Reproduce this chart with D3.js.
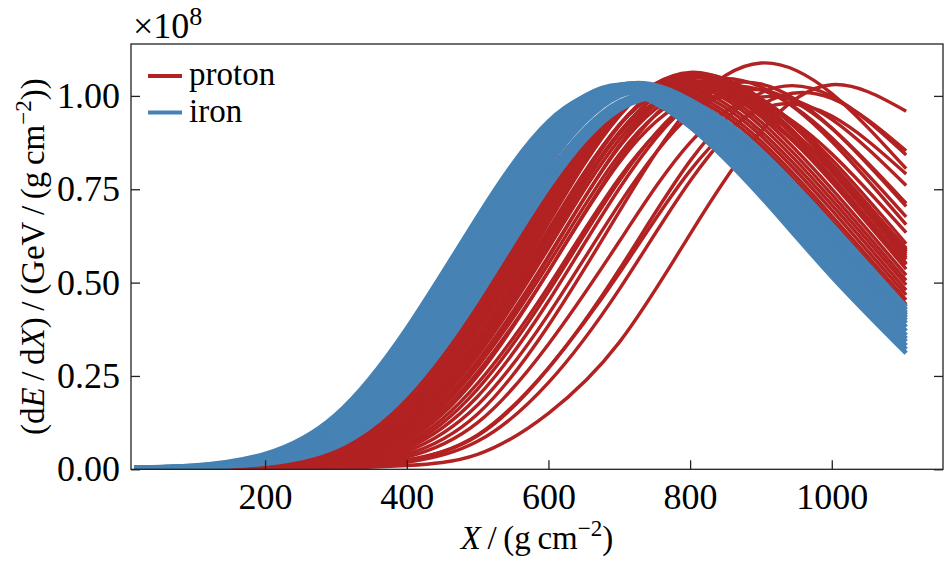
<!DOCTYPE html>
<html>
<head>
<meta charset="utf-8">
<script src="https://cdn.jsdelivr.net/npm/d3@7"></script>
<style>
  body { margin: 0; background: #fff; }
  svg { display: block; font-family: "Liberation Serif", "DejaVu Serif", serif; }
</style>
</head>
<body>
<div id="chart"></div>
<script>
const depthGrid = [15, 100, 200, 300, 400, 500, 600, 700, 800, 900, 1000, 1105];

// Proton-Schauer: dE/dX in Einheiten von 1e8 GeV/(g cm^-2), ein Array pro Schauer
const protonProfiles = [
  [0.002, 0.005, 0.019, 0.073, 0.236, 0.500, 0.796, 0.979, 0.970, 0.826, 0.624, 0.406],
  [0.002, 0.005, 0.016, 0.064, 0.214, 0.475, 0.778, 0.980, 0.990, 0.853, 0.651, 0.429],
  [0.002, 0.004, 0.015, 0.060, 0.205, 0.463, 0.766, 0.977, 0.998, 0.867, 0.666, 0.442],
  [0.002, 0.004, 0.014, 0.057, 0.195, 0.450, 0.756, 0.975, 1.006, 0.879, 0.679, 0.454],
  [0.002, 0.004, 0.013, 0.053, 0.186, 0.438, 0.744, 0.973, 1.014, 0.893, 0.694, 0.467],
  [0.002, 0.004, 0.012, 0.050, 0.175, 0.424, 0.733, 0.970, 1.022, 0.905, 0.708, 0.480],
  [0.002, 0.004, 0.011, 0.047, 0.166, 0.412, 0.721, 0.968, 1.030, 0.919, 0.722, 0.494],
  [0.002, 0.003, 0.011, 0.044, 0.158, 0.399, 0.709, 0.963, 1.036, 0.931, 0.736, 0.506],
  [0.002, 0.003, 0.010, 0.042, 0.150, 0.388, 0.696, 0.958, 1.042, 0.944, 0.751, 0.520],
  [0.002, 0.003, 0.010, 0.039, 0.143, 0.377, 0.687, 0.958, 1.053, 0.960, 0.769, 0.536],
  [0.002, 0.003, 0.009, 0.037, 0.136, 0.365, 0.673, 0.953, 1.059, 0.973, 0.784, 0.550],
  [0.002, 0.003, 0.009, 0.034, 0.128, 0.351, 0.659, 0.946, 1.063, 0.983, 0.797, 0.562],
  [0.002, 0.003, 0.008, 0.033, 0.124, 0.342, 0.642, 0.921, 1.035, 0.957, 0.776, 0.548],
  [0.002, 0.003, 0.008, 0.032, 0.120, 0.334, 0.635, 0.923, 1.048, 0.978, 0.798, 0.567],
  [0.002, 0.002, 0.008, 0.030, 0.113, 0.325, 0.625, 0.920, 1.057, 0.993, 0.815, 0.583],
  [0.002, 0.002, 0.008, 0.031, 0.116, 0.324, 0.617, 0.897, 1.018, 0.950, 0.775, 0.551],
  [0.002, 0.002, 0.007, 0.030, 0.111, 0.319, 0.614, 0.903, 1.037, 0.974, 0.800, 0.572],
  [0.001, 0.002, 0.007, 0.028, 0.106, 0.310, 0.604, 0.900, 1.045, 0.990, 0.818, 0.589],
  [0.001, 0.002, 0.007, 0.027, 0.104, 0.304, 0.592, 0.883, 1.025, 0.971, 0.802, 0.578],
  [0.001, 0.002, 0.007, 0.025, 0.096, 0.290, 0.571, 0.863, 1.014, 0.968, 0.804, 0.582],
  [0.001, 0.002, 0.006, 0.024, 0.092, 0.283, 0.567, 0.868, 1.032, 0.993, 0.830, 0.604],
  [0.001, 0.002, 0.006, 0.023, 0.089, 0.275, 0.550, 0.843, 1.002, 0.965, 0.806, 0.587],
  [0.001, 0.002, 0.006, 0.022, 0.083, 0.260, 0.530, 0.822, 0.988, 0.960, 0.807, 0.592],
  [0.001, 0.002, 0.005, 0.019, 0.076, 0.250, 0.530, 0.830, 1.023, 1.024, 0.878, 0.655],
  [0.001, 0.002, 0.005, 0.017, 0.068, 0.230, 0.490, 0.780, 0.970, 0.980, 0.845, 0.634],
  [0.001, 0.002, 0.004, 0.015, 0.062, 0.215, 0.475, 0.772, 0.985, 1.016, 0.888, 0.676],
  [0.001, 0.002, 0.004, 0.013, 0.056, 0.195, 0.450, 0.752, 0.980, 1.032, 0.914, 0.704],
  [0.001, 0.001, 0.003, 0.012, 0.048, 0.172, 0.415, 0.710, 0.948, 1.016, 0.913, 0.712],
  [0.001, 0.001, 0.003, 0.010, 0.040, 0.148, 0.385, 0.690, 0.970, 1.088, 1.006, 0.805],
  [0.001, 0.001, 0.002, 0.008, 0.033, 0.125, 0.335, 0.610, 0.875, 0.997, 0.937, 0.760],
  [0.000, 0.001, 0.002, 0.006, 0.025, 0.092, 0.272, 0.525, 0.800, 0.965, 0.946, 0.791],
  [0.001, 0.001, 0.002, 0.006, 0.024, 0.090, 0.270, 0.535, 0.826, 1.008, 0.999, 0.842],
  [0.000, 0.001, 0.002, 0.005, 0.019, 0.075, 0.232, 0.482, 0.772, 0.975, 0.993, 0.853],
  [0.000, 0.001, 0.001, 0.003, 0.010, 0.040, 0.150, 0.340, 0.630, 0.905, 1.030, 0.959]
];

// Eisen-Schauer: gleiche Einheiten, schmales Band mit fruehem Maximum
const ironProfiles = [
  [0.005, 0.010, 0.041, 0.146, 0.377, 0.676, 0.931, 1.012, 0.917, 0.730, 0.516, 0.311],
  [0.005, 0.009, 0.038, 0.139, 0.364, 0.664, 0.926, 1.018, 0.928, 0.744, 0.529, 0.321],
  [0.005, 0.009, 0.036, 0.131, 0.353, 0.651, 0.921, 1.024, 0.941, 0.759, 0.542, 0.331],
  [0.005, 0.008, 0.033, 0.124, 0.340, 0.639, 0.917, 1.030, 0.953, 0.773, 0.556, 0.342],
  [0.004, 0.008, 0.031, 0.117, 0.328, 0.623, 0.905, 1.028, 0.959, 0.783, 0.567, 0.350],
  [0.004, 0.007, 0.030, 0.110, 0.316, 0.608, 0.894, 1.027, 0.965, 0.792, 0.578, 0.359],
  [0.004, 0.007, 0.028, 0.104, 0.304, 0.592, 0.883, 1.025, 0.971, 0.802, 0.588, 0.370],
  [0.004, 0.006, 0.026, 0.097, 0.294, 0.580, 0.876, 1.029, 0.982, 0.816, 0.601, 0.381],
  [0.004, 0.006, 0.024, 0.091, 0.282, 0.564, 0.864, 1.027, 0.988, 0.826, 0.613, 0.391],
  [0.003, 0.006, 0.023, 0.085, 0.268, 0.546, 0.847, 1.018, 0.989, 0.831, 0.621, 0.399],
  [0.003, 0.005, 0.021, 0.080, 0.254, 0.528, 0.829, 1.008, 0.989, 0.837, 0.628, 0.407],
  [0.003, 0.005, 0.019, 0.074, 0.241, 0.510, 0.812, 0.999, 0.989, 0.843, 0.636, 0.414],
  [0.003, 0.005, 0.017, 0.069, 0.226, 0.490, 0.791, 0.984, 0.985, 0.844, 0.640, 0.420],
  [0.003, 0.005, 0.016, 0.063, 0.213, 0.472, 0.774, 0.975, 0.985, 0.849, 0.648, 0.427],
  [0.003, 0.004, 0.015, 0.059, 0.202, 0.456, 0.755, 0.963, 0.983, 0.854, 0.656, 0.435]
];

// Achsenbeschriftung und Legende
const xTicks = [200, 400, 600, 800, 1000];
const yTicks = [0, 0.25, 0.5, 0.75, 1.0];
const seriesNames = ["proton", "iron"];
const seriesColors = ["#b22222", "#4682b4"];
const seriesWidths = [3.4, 4.6]; // Eisenband soll geschlossen wirken

// --- Zeichenbereich ---
const width = 947, height = 564;
const plot = { left: 131, right: 943, top: 44, bottom: 469.3 };

const svg = d3.select("#chart")
  .append("svg")
  .attr("width", width)
  .attr("height", height);

// Skalen: X-Tiefe linear, Y in Einheiten von 1e8
const xScale = d3.scaleLinear()
  .domain([10.7, 1157])
  .range([plot.left, plot.right]);

const yScale = d3.scaleLinear()
  .domain([0, 1.139])
  .range([plot.bottom, plot.top]);

// Kurven nicht ueber den Rahmen hinaus zeichnen
svg.append("clipPath")
  .attr("id", "plotclip")
  .append("rect")
  .attr("x", plot.left)
  .attr("y", plot.top)
  .attr("width", plot.right - plot.left)
  .attr("height", plot.bottom - plot.top);

// natuerlicher Spline, damit die Maxima rund bleiben
const lineGenerator = d3.line()
  .x((d, i) => xScale(depthGrid[i]))
  .y(d => yScale(d))
  .curve(d3.curveNatural);

const curves = svg.append("g").attr("clip-path", "url(#plotclip)");

// erst Proton, dann Eisen (Eisen liegt oben)
[protonProfiles, ironProfiles].forEach((profiles, k) => {
  curves.append("g")
    .selectAll("path")
    .data(profiles)
    .enter()
    .append("path")
    .attr("d", lineGenerator)
    .attr("fill", "none")
    .attr("stroke", seriesColors[k])
    .attr("stroke-width", seriesWidths[k])
    .attr("stroke-linejoin", "round");
});

// --- Achsen mit nach innen zeigenden Ticks ---
const tickLen = 9;

const xAxis = svg.append("g")
  .attr("transform", `translate(0,${plot.bottom})`)
  .call(d3.axisBottom(xScale).tickValues(xTicks).tickSizeInner(-tickLen).tickSizeOuter(0)
    .tickPadding(14).tickFormat(d3.format("d")));

const yAxis = svg.append("g")
  .attr("transform", `translate(${plot.left},0)`)
  .call(d3.axisLeft(yScale).tickValues(yTicks).tickSizeInner(-tickLen).tickSizeOuter(0)
    .tickPadding(11).tickFormat(d3.format(".2f")));

const yAxisRight = svg.append("g")
  .attr("transform", `translate(${plot.right},0)`)
  .call(d3.axisRight(yScale).tickValues(yTicks).tickSizeInner(-tickLen).tickSizeOuter(0).tickFormat(""));

[xAxis, yAxis, yAxisRight].forEach(ax => {
  ax.select(".domain").remove();
  ax.selectAll(".tick line").attr("stroke", "#222").attr("stroke-width", 1.3);
  ax.selectAll(".tick text")
    .attr("fill", "#000")
    .style("font-family", "'Liberation Serif', serif")
    .style("font-size", "36px");
});

// Rahmen
svg.append("rect")
  .attr("x", plot.left)
  .attr("y", plot.top)
  .attr("width", plot.right - plot.left)
  .attr("height", plot.bottom - plot.top)
  .attr("fill", "none")
  .attr("stroke", "#222")
  .attr("stroke-width", 1.3);

// Skalenfaktor oben links
const offsetText = svg.append("text")
  .attr("x", 133)
  .attr("y", 38)
  .style("font-size", "36px")
  .attr("fill", "#000");
offsetText.append("tspan").text("\u00d710");
offsetText.append("tspan").attr("dy", -13).style("font-size", "26px").text("8");

// --- Achsentitel ---
const xLabel = svg.append("text")
  .attr("x", (plot.left + plot.right) / 2)
  .attr("y", 549)
  .attr("text-anchor", "middle")
  .style("font-size", "33px")
  .attr("fill", "#000");
xLabel.append("tspan").style("font-style", "italic").text("X");
xLabel.append("tspan").text("\u2009/\u2009(g\u2009cm");
xLabel.append("tspan").attr("dy", -13).style("font-size", "23px").text("\u22122");
xLabel.append("tspan").attr("dy", 13).text(")");

const yLabel = svg.append("text")
  .attr("transform", `translate(44,${(plot.top + plot.bottom) / 2}) rotate(-90)`)
  .attr("text-anchor", "middle")
  .style("font-size", "33px")
  .attr("fill", "#000");
yLabel.append("tspan").text("(d");
yLabel.append("tspan").style("font-style", "italic").text("E");
yLabel.append("tspan").text("\u2009/\u2009d");
yLabel.append("tspan").style("font-style", "italic").text("X");
yLabel.append("tspan").text(")\u2009/\u2009(GeV\u2009/\u2009(g\u2009cm");
yLabel.append("tspan").attr("dy", -13).style("font-size", "23px").text("\u22122");
yLabel.append("tspan").attr("dy", 13).text("))");

// --- Legende ---
const legend = svg.append("g");
seriesNames.forEach((name, i) => {
  const ly = 76 + i * 36.5;
  legend.append("line")
    .attr("x1", 148).attr("x2", 182)
    .attr("y1", ly).attr("y2", ly)
    .attr("stroke", seriesColors[i])
    .attr("stroke-width", 4);
  legend.append("text")
    .attr("x", 189)
    .attr("y", ly + 9)
    .style("font-size", "33px")
    .attr("fill", "#000")
    .text(name);
});
</script>
</body>
</html>
